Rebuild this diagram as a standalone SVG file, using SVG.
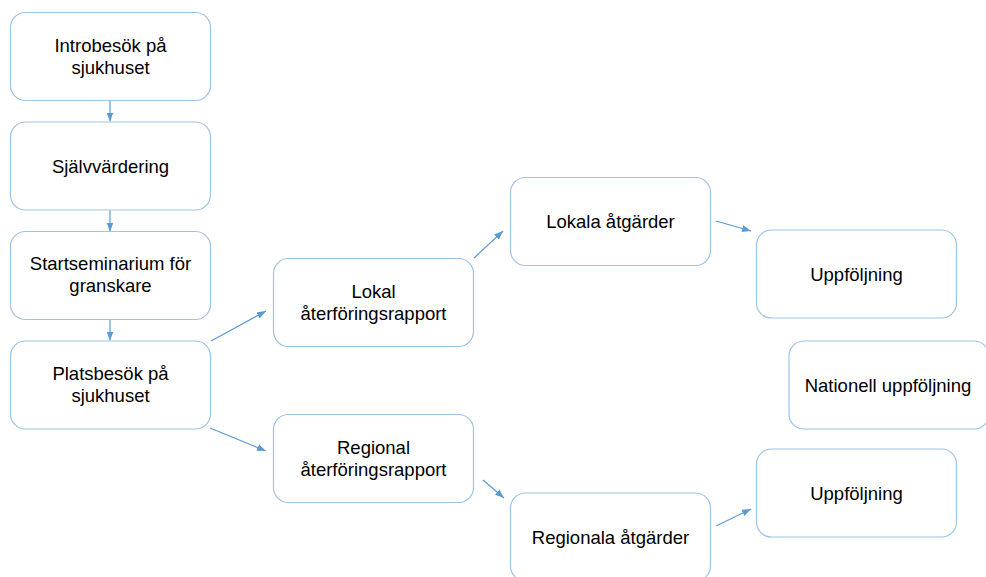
<svg xmlns="http://www.w3.org/2000/svg" width="986" height="577" viewBox="0 0 986 577">
<style>
.box{fill:#fff;stroke:#9dc3e6;stroke-width:1.2}
.t{font-family:"Liberation Sans",Arial,sans-serif;font-size:18.5px;fill:#000;text-anchor:middle}
.c{stroke:#5b9bd5;stroke-width:1.2;fill:none;marker-end:url(#ah)}
</style>
<defs>
<marker id="ah" markerUnits="userSpaceOnUse" markerWidth="10" markerHeight="8" refX="9" refY="4" orient="auto">
<path d="M0,0.5 L9,4 L0,7.5 Z" fill="#5b9bd5"/>
</marker>
</defs>
<rect width="986" height="577" fill="#fff"/>
<g id="connectors">
<line class="c" x1="110" y1="100.5" x2="110" y2="121.5"/>
<line class="c" x1="110" y1="210.5" x2="110" y2="231.5"/>
<line class="c" x1="110" y1="319.5" x2="110" y2="340.5"/>
<line class="c" x1="211" y1="341" x2="266" y2="311"/>
<line class="c" x1="210" y1="428" x2="266" y2="451"/>
<line class="c" x1="474" y1="258" x2="503" y2="231"/>
<line class="c" x1="716" y1="221" x2="751" y2="231"/>
<line class="c" x1="483" y1="480" x2="504" y2="498"/>
<line class="c" x1="716" y1="526" x2="751" y2="509"/>
</g>
<g id="n1"><rect class="box" x="10.5" y="12.5" width="200" height="88" rx="15"/><text class="t" x="110.5" y="52">Introbesök på</text><text class="t" x="110.5" y="74">sjukhuset</text></g>
<g id="n2"><rect class="box" x="10.5" y="122" width="200" height="88" rx="15"/><text class="t" x="110.5" y="172.5">Självvärdering</text></g>
<g id="n3"><rect class="box" x="10.5" y="231.5" width="200" height="88" rx="15"/><text class="t" x="110.5" y="270">Startseminarium för</text><text class="t" x="110.5" y="292">granskare</text></g>
<g id="n4"><rect class="box" x="10.5" y="341" width="200" height="88" rx="15"/><text class="t" x="110.5" y="380">Platsbesök på</text><text class="t" x="110.5" y="402">sjukhuset</text></g>
<g id="n5"><rect class="box" x="273.5" y="258.5" width="200" height="88" rx="15"/><text class="t" x="373.5" y="298">Lokal</text><text class="t" x="373.5" y="320">återföringsrapport</text></g>
<g id="n6"><rect class="box" x="273.5" y="414.5" width="200" height="88" rx="15"/><text class="t" x="373.5" y="454">Regional</text><text class="t" x="373.5" y="476">återföringsrapport</text></g>
<g id="n7"><rect class="box" x="510.5" y="177.5" width="200" height="88" rx="15"/><text class="t" x="610.5" y="228">Lokala åtgärder</text></g>
<g id="n8"><rect class="box" x="510.5" y="493" width="200" height="88" rx="15"/><text class="t" x="610.5" y="544">Regionala åtgärder</text></g>
<g id="n9"><rect class="box" x="756.5" y="230" width="200" height="88" rx="15"/><text class="t" x="856.5" y="281">Uppföljning</text></g>
<g id="n10"><rect class="box" x="789" y="341" width="200" height="88" rx="15"/><text class="t" x="888" y="392">Nationell uppföljning</text></g>
<g id="n11"><rect class="box" x="756.5" y="449" width="200" height="88" rx="15"/><text class="t" x="856.5" y="500">Uppföljning</text></g>
</svg>
